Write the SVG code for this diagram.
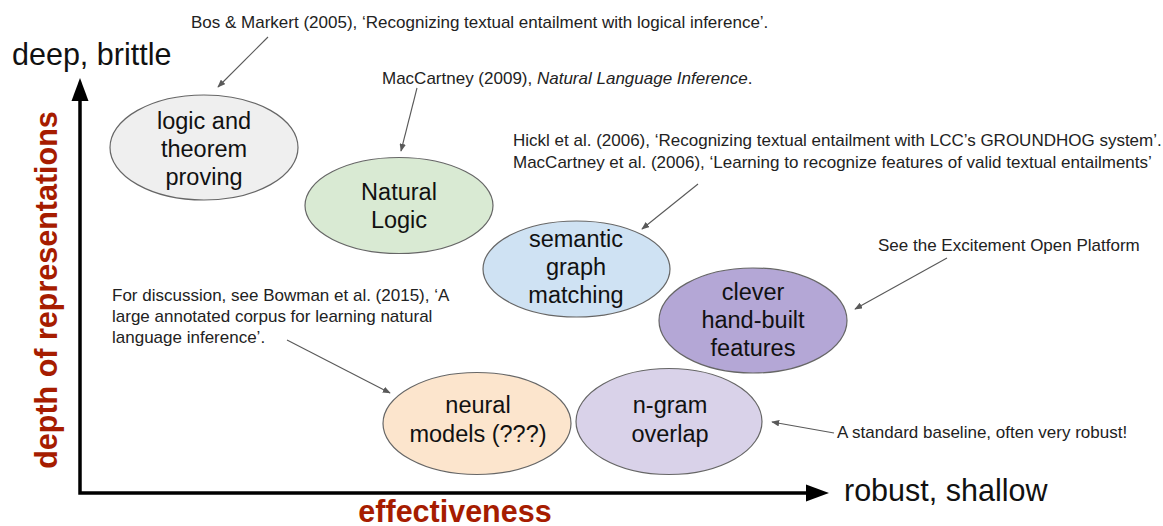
<svg xmlns="http://www.w3.org/2000/svg" width="1163" height="526" viewBox="0 0 1163 526">
<style>
.node ellipse{stroke:#666;stroke-width:1.2}
.nt{font-family:"Liberation Sans",Arial,sans-serif;font-size:23.5px;fill:#111;text-anchor:middle}
.ann{font-family:"Liberation Sans",Arial,sans-serif;font-size:17px;fill:#222}
.ax{font-family:"Liberation Sans",Arial,sans-serif;font-size:30.5px;fill:#111}
.axr{font-family:"Liberation Sans",Arial,sans-serif;font-size:30.5px;font-weight:bold;fill:#a61c00;text-anchor:middle}
.conn line{stroke:#595959;stroke-width:1.1;marker-end:url(#ah)}
.axis{stroke:#000;stroke-width:3.5;fill:none}
</style>
<defs>
<marker id="ah" viewBox="0 0 10 8" refX="9" refY="4" markerWidth="8" markerHeight="6.4" markerUnits="userSpaceOnUse" orient="auto">
<path d="M0,0 L10,4 L0,8 z" fill="#595959"/>
</marker>
</defs>
<rect width="1163" height="526" fill="#fff"/>

<g id="axes">
<polyline class="axis" points="80,100 80,493 808,493"/>
<polygon points="80,78 71.5,101 88.5,101" fill="#000"/>
<polygon points="829,493 806,484.5 806,501.5" fill="#000"/>
<text class="ax" x="12" y="65">deep, brittle</text>
<text class="ax" x="844" y="501">robust, shallow</text>
<text class="axr" x="455" y="522">effectiveness</text>
<text class="axr" transform="translate(57,290) rotate(-90)">depth of representations</text>
</g>

<g id="node-logic" class="node">
<ellipse cx="204" cy="147.5" rx="94" ry="52.5" fill="#efefef"/>
<text class="nt" x="204" y="129">logic and</text>
<text class="nt" x="204" y="157">theorem</text>
<text class="nt" x="204" y="185">proving</text>
</g>
<g id="node-natural" class="node">
<ellipse cx="399" cy="205.5" rx="94" ry="48" fill="#d9ead3"/>
<text class="nt" x="399" y="200">Natural</text>
<text class="nt" x="399" y="228">Logic</text>
</g>
<g id="node-semantic" class="node">
<ellipse cx="576.5" cy="269" rx="93.5" ry="48" fill="#cfe2f3"/>
<text class="nt" x="576" y="247">semantic</text>
<text class="nt" x="576" y="275">graph</text>
<text class="nt" x="576" y="303">matching</text>
</g>
<g id="node-clever" class="node">
<ellipse cx="753" cy="320.5" rx="94" ry="52.5" fill="#b4a7d6"/>
<text class="nt" x="753" y="300">clever</text>
<text class="nt" x="753" y="328">hand-built</text>
<text class="nt" x="753" y="356">features</text>
</g>
<g id="node-neural" class="node">
<ellipse cx="477" cy="423.5" rx="94" ry="51" fill="#fce5cd"/>
<text class="nt" x="478" y="413">neural</text>
<text class="nt" x="478" y="442">models (???)</text>
</g>
<g id="node-ngram" class="node">
<ellipse cx="669" cy="421.5" rx="93" ry="53" fill="#d9d2e9"/>
<text class="nt" x="670" y="413">n-gram</text>
<text class="nt" x="670" y="442">overlap</text>
</g>

<g id="annotations">
<text class="ann" x="191" y="28">Bos &amp; Markert (2005), ‘Recognizing textual entailment with logical inference’.</text>
<text class="ann" x="382" y="84">MacCartney (2009), <tspan font-style="italic">Natural Language Inference</tspan>.</text>
<text class="ann" x="513" y="146">Hickl et al. (2006), ‘Recognizing textual entailment with LCC’s GROUNDHOG system’.</text>
<text class="ann" x="513" y="168">MacCartney et al. (2006), ‘Learning to recognize features of valid textual entailments’</text>
<text class="ann" x="878" y="251">See the Excitement Open Platform</text>
<text class="ann" x="112" y="301">For discussion, see Bowman et al. (2015), ‘A</text>
<text class="ann" x="112" y="322">large annotated corpus for learning natural</text>
<text class="ann" x="112" y="343">language inference’.</text>
<text class="ann" x="837" y="438">A standard baseline, often very robust!</text>
</g>

<g id="connectors" class="conn">
<line x1="268" y1="37" x2="218" y2="87"/>
<line x1="417" y1="88" x2="401" y2="151"/>
<line x1="698" y1="184" x2="642" y2="229"/>
<line x1="947" y1="258" x2="855" y2="309"/>
<line x1="287" y1="340" x2="390" y2="393"/>
<line x1="834" y1="433" x2="772" y2="422"/>
</g>
</svg>
